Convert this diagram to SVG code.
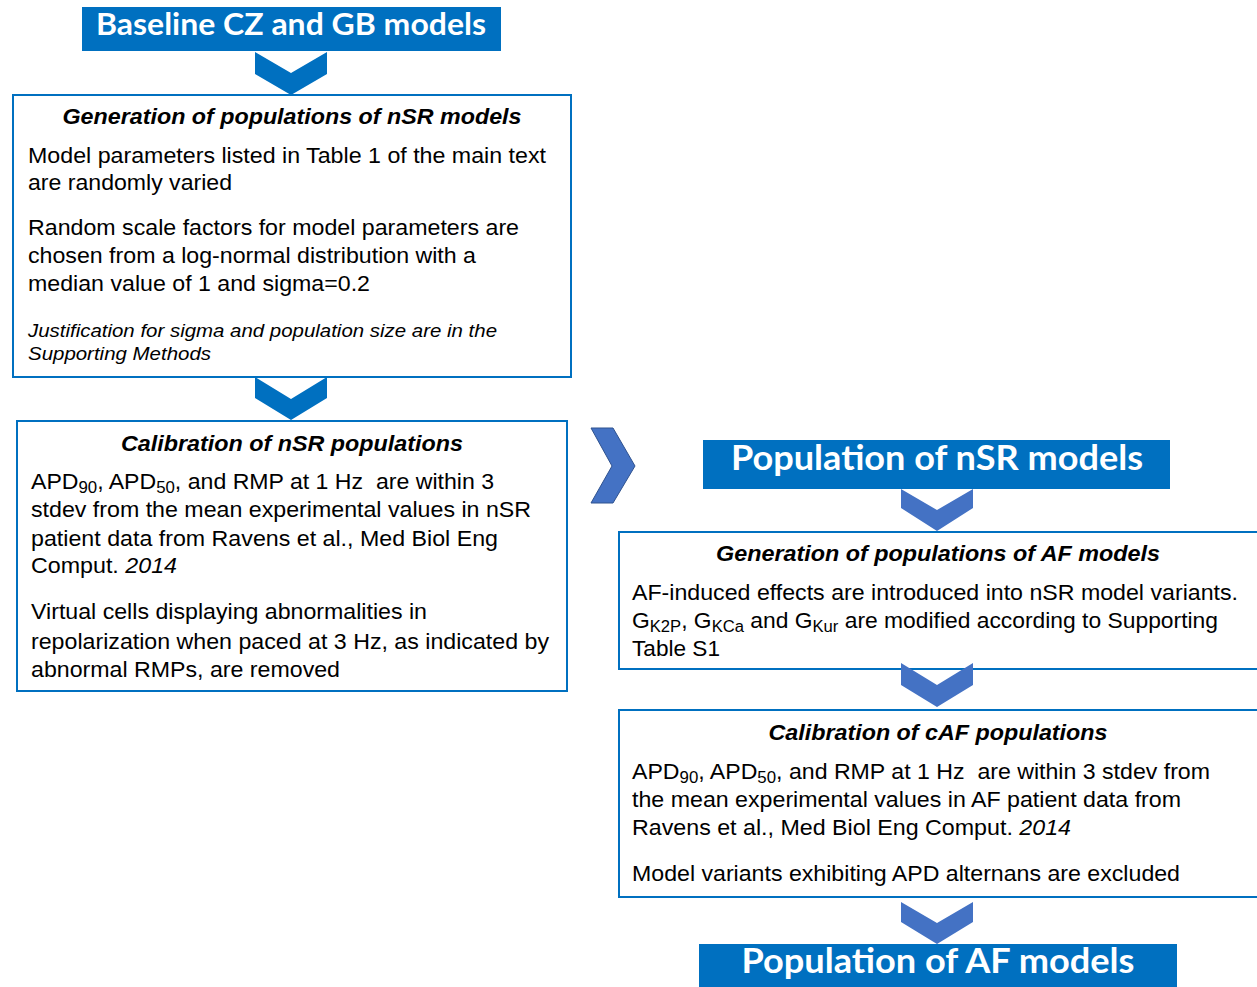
<svg xmlns="http://www.w3.org/2000/svg" width="1257" height="987" viewBox="0 0 1257 987">
<style>
.tbox{fill:#0070C0}
.ttl{font-family:Lato,"Open Sans","Liberation Sans",sans-serif;font-weight:bold;fill:#fff;text-anchor:middle}
.box{fill:#fff;stroke:#0070C0;stroke-width:2}
.hd{font-family:"Liberation Sans",Arial,sans-serif;font-weight:bold;font-style:italic;font-size:22px;fill:#000;text-anchor:middle}
.bd{font-family:"Liberation Sans",Arial,sans-serif;font-size:22px;fill:#000}
.it{font-family:"Liberation Sans",Arial,sans-serif;font-size:19px;font-style:italic;fill:#000}
.chevL{fill:#0070C0}
.chevR{fill:#4472C4}
</style>
<g id="title-baseline">
<rect class="tbox" x="82" y="7" width="419" height="44"/>
<text class="ttl" x="291" y="35" font-size="30" textLength="390" lengthAdjust="spacingAndGlyphs">Baseline CZ and GB models</text>
</g>
<g id="box-gen-nsr">
<rect class="box" x="13" y="95" width="558" height="282"/>
<text class="hd" x="292" y="124" textLength="459" lengthAdjust="spacingAndGlyphs">Generation of populations of nSR models</text>
<text class="bd" x="28" y="163" textLength="518" lengthAdjust="spacingAndGlyphs">Model parameters listed in Table 1 of the main text</text>
<text class="bd" x="28" y="190" textLength="204" lengthAdjust="spacingAndGlyphs">are randomly varied</text>
<text class="bd" x="28" y="235" textLength="491" lengthAdjust="spacingAndGlyphs">Random scale factors for model parameters are</text>
<text class="bd" x="28" y="263" textLength="448" lengthAdjust="spacingAndGlyphs">chosen from a log-normal distribution with a</text>
<text class="bd" x="28" y="291" textLength="342" lengthAdjust="spacingAndGlyphs">median value of 1 and sigma=0.2</text>
<text class="it" x="28" y="337" textLength="469" lengthAdjust="spacingAndGlyphs">Justification for sigma and population size are in the</text>
<text class="it" x="28" y="360" textLength="183" lengthAdjust="spacingAndGlyphs">Supporting Methods</text>
</g>
<g id="box-cal-nsr">
<rect class="box" x="17" y="421" width="550" height="270"/>
<text class="hd" x="292" y="451" textLength="342" lengthAdjust="spacingAndGlyphs">Calibration of nSR populations</text>
<text class="bd" x="31" y="489" xml:space="preserve" textLength="463" lengthAdjust="spacingAndGlyphs">APD<tspan font-size="16" dy="4">90</tspan><tspan dy="-4">, APD</tspan><tspan font-size="16" dy="4">50</tspan><tspan dy="-4">, and RMP at 1 Hz  are within 3</tspan></text>
<text class="bd" x="31" y="517" textLength="500" lengthAdjust="spacingAndGlyphs">stdev from the mean experimental values in nSR</text>
<text class="bd" x="31" y="546" textLength="467" lengthAdjust="spacingAndGlyphs">patient data from Ravens et al., Med Biol Eng</text>
<text class="bd" x="31" y="573" textLength="146" lengthAdjust="spacingAndGlyphs">Comput. <tspan font-style="italic">2014</tspan></text>
<text class="bd" x="31" y="619" textLength="396" lengthAdjust="spacingAndGlyphs">Virtual cells displaying abnormalities in</text>
<text class="bd" x="31" y="649" textLength="518" lengthAdjust="spacingAndGlyphs">repolarization when paced at 3 Hz, as indicated by</text>
<text class="bd" x="31" y="677" textLength="309" lengthAdjust="spacingAndGlyphs">abnormal RMPs, are removed</text>
</g>
<g id="title-pop-nsr">
<rect class="tbox" x="703" y="440" width="467" height="49"/>
<text class="ttl" x="937" y="470" font-size="34" textLength="412" lengthAdjust="spacingAndGlyphs">Population of nSR models</text>
</g>
<g id="box-gen-af">
<rect class="box" x="619" y="532" width="642" height="137"/>
<text class="hd" x="938" y="561" textLength="444" lengthAdjust="spacingAndGlyphs">Generation of populations of AF models</text>
<text class="bd" x="632" y="600" textLength="606" lengthAdjust="spacingAndGlyphs">AF-induced effects are introduced into nSR model variants.</text>
<text class="bd" x="632" y="628" textLength="586" lengthAdjust="spacingAndGlyphs">G<tspan font-size="16" dy="4">K2P</tspan><tspan dy="-4">, G</tspan><tspan font-size="16" dy="4">KCa</tspan><tspan dy="-4"> and G</tspan><tspan font-size="16" dy="4">Kur</tspan><tspan dy="-4"> are modified according to Supporting</tspan></text>
<text class="bd" x="632" y="656" textLength="88" lengthAdjust="spacingAndGlyphs">Table S1</text>
</g>
<g id="box-cal-caf">
<rect class="box" x="619" y="710" width="642" height="187"/>
<text class="hd" x="938" y="740" textLength="339" lengthAdjust="spacingAndGlyphs">Calibration of cAF populations</text>
<text class="bd" x="632" y="779" xml:space="preserve" textLength="578" lengthAdjust="spacingAndGlyphs">APD<tspan font-size="16" dy="4">90</tspan><tspan dy="-4">, APD</tspan><tspan font-size="16" dy="4">50</tspan><tspan dy="-4">, and RMP at 1 Hz  are within 3 stdev from</tspan></text>
<text class="bd" x="632" y="807" textLength="549" lengthAdjust="spacingAndGlyphs">the mean experimental values in AF patient data from</text>
<text class="bd" x="632" y="835" textLength="439" lengthAdjust="spacingAndGlyphs">Ravens et al., Med Biol Eng Comput. <tspan font-style="italic">2014</tspan></text>
<text class="bd" x="632" y="881" textLength="548" lengthAdjust="spacingAndGlyphs">Model variants exhibiting APD alternans are excluded</text>
</g>
<g id="title-pop-af">
<rect class="tbox" x="699" y="944" width="478" height="45"/>
<text class="ttl" x="938" y="973" font-size="34" textLength="393" lengthAdjust="spacingAndGlyphs">Population of AF models</text>
</g>
<g id="connectors">
<polygon class="chevL" points="255,52 291,73 327,52 327,74 291,95 255,74"/>
<polygon class="chevL" points="255,377 291,399 327,377 327,398 291,420 255,398"/>
<polygon class="chevR" stroke="#2F528F" stroke-width="1" points="591,428 613,428 635,466 613,503 591,503 612,466"/>
<polygon class="chevR" points="901,489 937,510 973,489 973,508 937,531 901,508"/>
<polygon class="chevR" points="901,663 937,685 973,663 973,685 937,707 901,685"/>
<polygon class="chevR" points="901,902 937,923 973,902 973,922 937,944 901,922"/>
</g>
</svg>
